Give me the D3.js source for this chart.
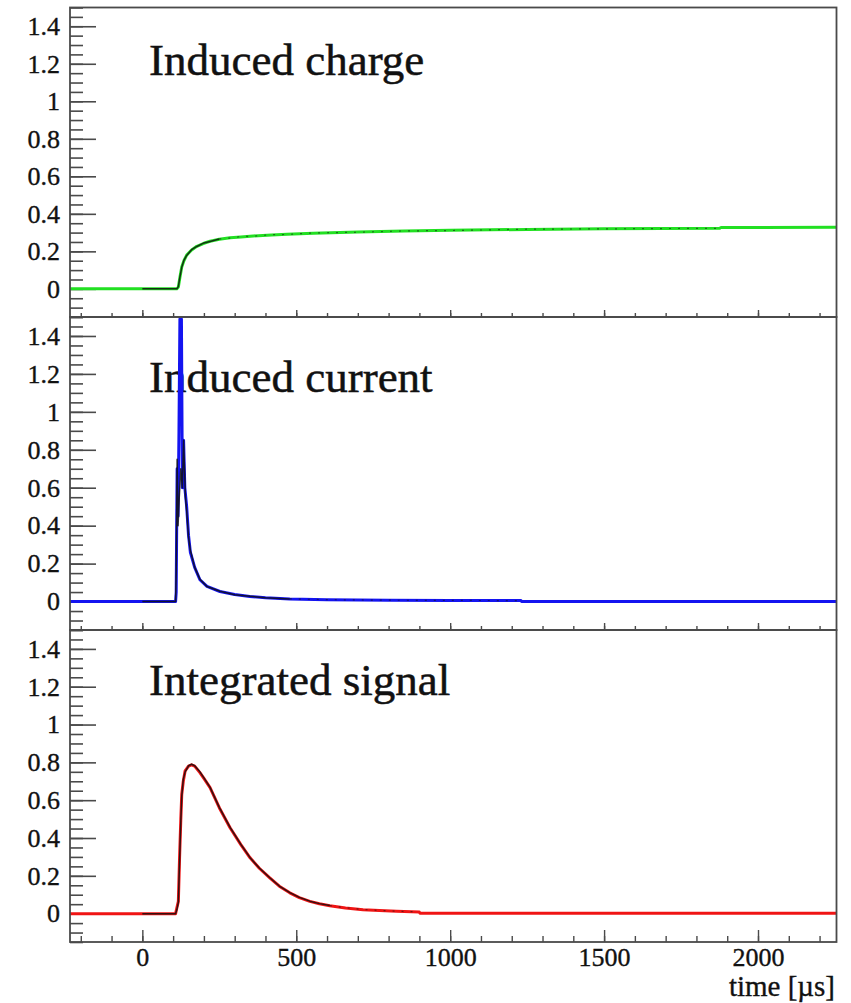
<!DOCTYPE html>
<html>
<head>
<meta charset="utf-8">
<script src="https://cdn.jsdelivr.net/npm/d3@7/dist/d3.min.js"></script>
<style>
  html, body { margin: 0; padding: 0; background: #fff; }
  svg { display: block; }
  text { font-family: "Liberation Serif", "Times New Roman", Times, "DejaVu Serif", serif; fill: #111; }
</style>
</head>
<body>
<svg id="chart" width="851" height="1003"></svg>
<script>
// ---------------- DATA ----------------
const panelTitles = ["Induced charge", "Induced current", "Integrated signal"];
const xTickLabels = [0, 500, 1000, 1500, 2000];
const yTickLabels = [0, 0.2, 0.4, 0.6, 0.8, 1, 1.2, 1.4];
const xAxisTitle = "time [\u00b5s]";

// Induced charge (green = colored series, black = overlay)
const chargeTime  = [-235, 0, 100, 112, 117, 122, 128, 135, 144, 160, 177, 200, 220, 250, 285, 320, 360, 420, 470, 555, 700, 850, 1000, 1250, 1500, 1875, 1880, 2255];
const chargeValue = [0, 0, 0, 0, 0.01, 0.06, 0.117, 0.15, 0.18, 0.207, 0.227, 0.243, 0.254, 0.264, 0.272, 0.277, 0.282, 0.287, 0.291, 0.297, 0.303, 0.308, 0.312, 0.317, 0.320, 0.323, 0.327, 0.328];
const chargeBlackTime  = [0, 100, 112, 117, 122, 128, 135, 144, 160, 177, 200, 220, 250, 285, 320, 360, 420, 470, 555, 700, 850, 1000, 1250, 1500, 1875];
const chargeBlackValue = [0, 0, 0, 0.012, 0.062, 0.115, 0.152, 0.178, 0.209, 0.226, 0.245, 0.253, 0.266, 0.271, 0.279, 0.281, 0.289, 0.290, 0.298, 0.302, 0.309, 0.311, 0.318, 0.320, 0.323];

// Induced current (blue = colored series, black = overlay)
const currentTime  = [-235, 0, 108, 110, 113, 116, 119, 122, 127, 130, 134, 138, 144, 150, 156, 170, 187, 210, 252, 300, 349, 400, 479, 600, 800, 1000, 1230, 1232, 2255];
const currentValue = [0, 0, 0, 0.05, 0.7, 0.45, 0.9, 1.49, 1.49, 0.6, 0.85, 0.6, 0.5, 0.35, 0.26, 0.18, 0.115, 0.08, 0.053, 0.037, 0.027, 0.02, 0.014, 0.01, 0.007, 0.006, 0.005, 0, 0];
const currentBlackTime  = [0, 108, 110, 113, 116, 120, 125, 130, 134, 140, 144, 150, 156, 170, 187, 210, 252, 300, 349, 400, 479, 600, 800, 1000, 1230];
const currentBlackValue = [0, 0, 0.15, 0.75, 0.4, 0.55, 0.7, 0.6, 0.85, 0.55, 0.48, 0.34, 0.27, 0.18, 0.118, 0.079, 0.054, 0.036, 0.028, 0.02, 0.014, 0.01, 0.007, 0.006, 0.005];

// Integrated signal (red = colored series, black = overlay)
const signalTime  = [-235, 0, 108, 112, 117, 121, 125, 128, 133, 139, 150, 160, 170, 187, 200, 220, 250, 285, 320, 350, 380, 414, 445, 479, 510, 544, 575, 609, 660, 717, 770, 826, 900, 902, 2255];
const signalValue = [0, 0, 0, 0.03, 0.065, 0.3, 0.5, 0.63, 0.7, 0.755, 0.78, 0.787, 0.78, 0.746, 0.715, 0.666, 0.56, 0.454, 0.365, 0.295, 0.24, 0.189, 0.145, 0.11, 0.085, 0.065, 0.052, 0.042, 0.03, 0.021, 0.016, 0.012, 0.008, 0.002, 0.002];
const signalBlackTime  = [0, 108, 112, 117, 121, 125, 128, 133, 139, 150, 160, 170, 187, 200, 220, 250, 285, 320, 350, 380, 414, 445, 479, 510, 544, 575, 609, 660, 717, 770, 826, 900];
const signalBlackValue = [0, 0, 0.02, 0.06, 0.28, 0.49, 0.62, 0.71, 0.75, 0.782, 0.79, 0.782, 0.75, 0.718, 0.668, 0.562, 0.456, 0.366, 0.296, 0.241, 0.19, 0.146, 0.111, 0.086, 0.066, 0.053, 0.043, 0.031, 0.022, 0.017, 0.013, 0.009];

const seriesColors = ["#22e022", "#1414f0", "#f01414"];
// time after which the black overlay becomes faint (dashed) in each panel
const overlaySolidUntil = [250, 500, 650];

// ---------------- LAYOUT ----------------
const svg = d3.select("#chart");
const left = 70, right = 836.5;
const panelTops = [7.5, 317, 630];
const panelBottoms = [317, 630, 942];
const titleBaselines = [75, 391.5, 695];
const frameColor = "#4a4a4a";
const FONT = "Liberation Serif, Times New Roman, serif";
const LABEL_SIZE = 26;

const x = d3.scaleLinear().domain([-235, 2255]).range([left, right]);

const panels = [
  { col: [chargeTime, chargeValue], blk: [chargeBlackTime, chargeBlackValue] },
  { col: [currentTime, currentValue], blk: [currentBlackTime, currentBlackValue] },
  { col: [signalTime, signalValue], blk: [signalBlackTime, signalBlackValue] }
];

const yMinor = d3.range(-0.15, 1.5001, 0.05).map(v => +v.toFixed(2));
const xMinor = d3.range(-200, 2255, 100);

function styleText(a) {
  a.selectAll("text").attr("font-size", LABEL_SIZE).attr("fill", "#111")
    .attr("font-family", FONT).attr("stroke", "#111").attr("stroke-width", 0.35);
}

panels.forEach((p, i) => {
  const top = panelTops[i], bottom = panelBottoms[i];
  const y = d3.scaleLinear().domain([-0.15, 1.5]).range([bottom, top]);
  const g = svg.append("g");
  const isLast = i === 2;

  const clipId = "clip" + i;
  svg.append("clipPath").attr("id", clipId)
    .append("rect").attr("x", left).attr("y", top).attr("width", right - left).attr("height", bottom - top);

  // y minor ticks
  g.append("g").attr("transform", `translate(${left},0)`)
    .call(d3.axisLeft(y).tickValues(yMinor).tickSize(-13).tickFormat(""))
    .call(a => a.select(".domain").remove())
    .call(a => a.selectAll("line").attr("stroke", frameColor).attr("stroke-width", 1.6));
  // y major ticks + labels
  g.append("g").attr("transform", `translate(${left},0)`)
    .call(d3.axisLeft(y).tickValues(yTickLabels).tickSize(-26).tickPadding(10)
      .tickFormat(d => (d === 0 || d === 1) ? String(d) : d3.format(".1f")(d)))
    .call(a => a.select(".domain").remove())
    .call(a => a.selectAll("line").attr("stroke", frameColor).attr("stroke-width", 1.6))
    .call(styleText);

  // x ticks (pointing up, inside frame)
  const minorLen = isLast ? 6 : 4, majorLen = isLast ? 12 : 7;
  g.append("g").attr("transform", `translate(0,${bottom})`)
    .call(d3.axisBottom(x).tickValues(xMinor).tickSize(-minorLen).tickFormat(""))
    .call(a => a.select(".domain").remove())
    .call(a => a.selectAll("line").attr("stroke", frameColor).attr("stroke-width", 1.4));
  g.append("g").attr("transform", `translate(0,${bottom})`)
    .call(d3.axisBottom(x).tickValues(xTickLabels).tickSize(-majorLen).tickPadding(6)
      .tickFormat(isLast ? d3.format("d") : () => ""))
    .call(a => a.select(".domain").remove())
    .call(a => a.selectAll("line").attr("stroke", frameColor).attr("stroke-width", 1.4))
    .call(styleText);

  // title
  g.append("text").attr("x", 149).attr("y", titleBaselines[i])
    .attr("font-family", FONT).attr("font-size", 45)
    .attr("stroke", "#111").attr("stroke-width", 0.5).text(panelTitles[i]);

  // lines
  const line = d3.line().x(d => x(d[0])).y(d => y(d[1]));
  const colData = p.col[0].map((t, k) => [t, p.col[1][k]]);
  const blkData = p.blk[0].map((t, k) => [t, p.blk[1][k]]);
  const cut = overlaySolidUntil[i];
  const blkSolid = blkData.filter(d => d[0] <= cut);
  const blkFaint = blkData.filter(d => d[0] >= blkSolid[blkSolid.length - 1][0]);
  const lg = g.append("g").attr("clip-path", `url(#${clipId})`);
  lg.append("path").datum(colData).attr("d", line)
    .attr("fill", "none").attr("stroke", seriesColors[i]).attr("stroke-width", 3)
    .attr("stroke-linejoin", "round");
  lg.append("path").datum(blkSolid).attr("d", line)
    .attr("fill", "none").attr("stroke", "#111").attr("stroke-width", 1.5)
    .attr("stroke-opacity", 0.85).attr("stroke-linejoin", "round");
  lg.append("path").datum(blkFaint).attr("d", line)
    .attr("fill", "none").attr("stroke", "#111").attr("stroke-width", 1.2)
    .attr("stroke-opacity", 0.55).attr("stroke-dasharray", "2,7");

  // frame
  g.append("rect").attr("x", left).attr("y", top)
    .attr("width", right - left).attr("height", bottom - top)
    .attr("fill", "none").attr("stroke", frameColor).attr("stroke-width", 1.8);
});

// x axis title
svg.append("text").attr("x", 835).attr("y", 996).attr("text-anchor", "end")
  .attr("font-family", FONT).attr("font-size", 29)
  .attr("stroke", "#111").attr("stroke-width", 0.35).text(xAxisTitle);
</script>
</body>
</html>
